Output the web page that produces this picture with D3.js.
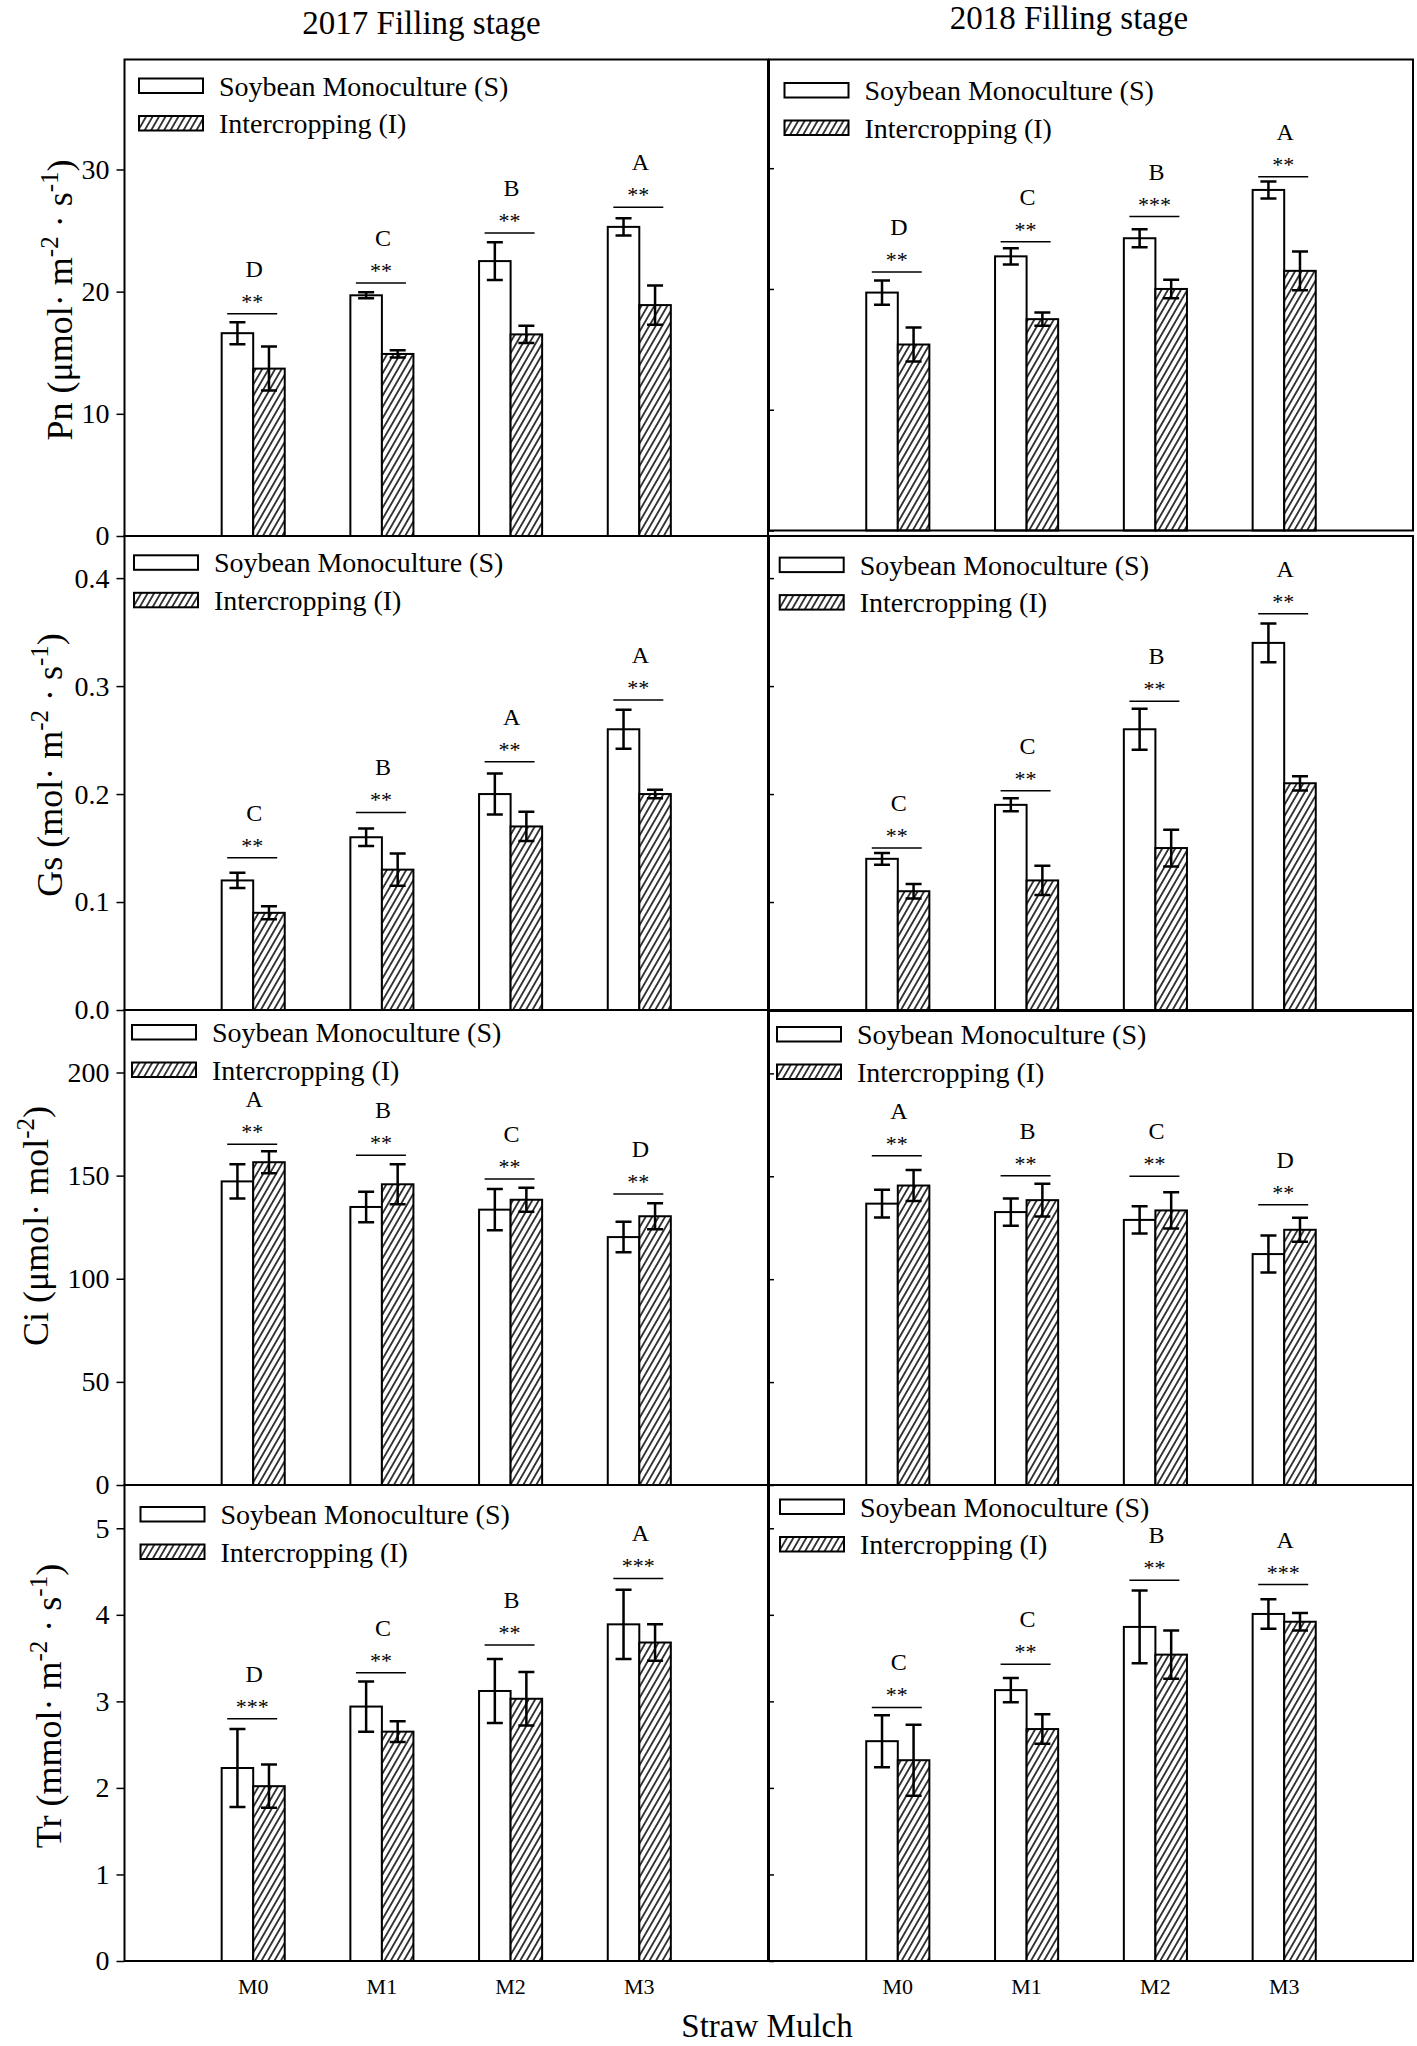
<!DOCTYPE html>
<html>
<head>
<meta charset="utf-8">
<title>Photosynthesis under straw mulch</title>
<script src="https://d3js.org/d3.v7.min.js"></script>
<style>
    html, body { margin: 0; padding: 0; background: #fff; }
    svg text { font-family: "Liberation Serif", "Times New Roman", serif; fill: #000; }
</style>
</head>
<body>
<svg id="chart" width="1417" height="2046"></svg>
<script>
    // Categories and series
    const groups = ["M0", "M1", "M2", "M3"];
    const seriesNames = ["Soybean Monoculture (S)", "Intercropping (I)"];
    const yearTitles = ["2017 Filling stage", "2018 Filling stage"];
    const xTitle = "Straw Mulch";

    // Pn 2017
    const pn17S = [16.6, 19.7, 22.5, 25.3], pn17SErr = [0.9, 0.25, 1.55, 0.7];
    const pn17I = [13.7, 14.9, 16.5, 18.9], pn17IErr = [1.8, 0.3, 0.7, 1.6];
    const pn17Line = [18.2, 20.7, 24.8, 26.9];
    const pn17Stars = ["**", "**", "**", "**"], pn17Letters = ["D", "C", "B", "A"];
    // Pn 2018
    const pn18S = [19.7, 22.7, 24.2, 28.2], pn18SErr = [1.0, 0.67, 0.75, 0.7];
    const pn18I = [15.4, 17.5, 20.0, 21.5], pn18IErr = [1.4, 0.55, 0.77, 1.6];
    const pn18Line = [21.4, 23.9, 26.0, 29.3];
    const pn18Stars = ["**", "**", "***", "**"], pn18Letters = ["D", "C", "B", "A"];
    // Gs 2017
    const gs17S = [0.12, 0.16, 0.20, 0.26], gs17SErr = [0.007, 0.008, 0.019, 0.018];
    const gs17I = [0.09, 0.13, 0.17, 0.20], gs17IErr = [0.006, 0.015, 0.0135, 0.004];
    const gs17Line = [0.141, 0.183, 0.230, 0.287];
    const gs17Stars = ["**", "**", "**", "**"], gs17Letters = ["C", "B", "A", "A"];
    // Gs 2018
    const gs18S = [0.14, 0.19, 0.26, 0.34], gs18SErr = [0.0054, 0.006, 0.019, 0.018];
    const gs18I = [0.11, 0.12, 0.15, 0.21], gs18IErr = [0.0067, 0.0136, 0.017, 0.0066];
    const gs18Line = [0.150, 0.203, 0.286, 0.367];
    const gs18Stars = ["**", "**", "**", "**"], gs18Letters = ["C", "C", "B", "A"];
    // Ci 2017
    const ci17S = [147.2, 134.8, 133.5, 120.2], ci17SErr = [8.3, 7.4, 10, 7.4];
    const ci17I = [156.5, 145.8, 138.3, 130.3], ci17IErr = [5.3, 9.7, 5.8, 6.3];
    const ci17Line = [165.2, 159.9, 148.4, 141.1];
    const ci17Stars = ["**", "**", "**", "**"], ci17Letters = ["A", "B", "C", "D"];
    // Ci 2018
    const ci18S = [136.7, 132.6, 128.8, 112.2], ci18SErr = [6.7, 6.6, 6.6, 9];
    const ci18I = [145.5, 138.4, 133.4, 124.0], ci18IErr = [7.5, 8, 8.8, 5.8];
    const ci18Line = [160, 150.2, 150, 136.2];
    const ci18Stars = ["**", "**", "**", "**"], ci18Letters = ["A", "B", "C", "D"];
    // Tr 2017
    const tr17S = [2.23, 2.94, 3.12, 3.89], tr17SErr = [0.45, 0.29, 0.37, 0.40];
    const tr17I = [2.02, 2.65, 3.03, 3.68], tr17IErr = [0.25, 0.12, 0.31, 0.21];
    const tr17Line = [2.80, 3.33, 3.65, 4.42];
    const tr17Stars = ["***", "**", "**", "***"], tr17Letters = ["D", "C", "B", "A"];
    // Tr 2018
    const tr18S = [2.54, 3.13, 3.86, 4.01], tr18SErr = [0.3, 0.14, 0.42, 0.17];
    const tr18I = [2.32, 2.68, 3.54, 3.92], tr18IErr = [0.41, 0.17, 0.28, 0.1];
    const tr18Line = [2.93, 3.43, 4.40, 4.35];
    const tr18Stars = ["**", "**", "**", "***"], tr18Letters = ["C", "C", "B", "A"];

    // Y axes (per row)
    const pnTicks = [0, 10, 20, 30], gsTicks = [0, 0.1, 0.2, 0.3, 0.4];
    const ciTicks = [0, 50, 100, 150, 200], trTicks = [0, 1, 2, 3, 4, 5];
    const yMax = [39, 0.439, 230.3, 5.5];
    const yTicks = [pnTicks, gsTicks, ciTicks, trTicks];
    const yFormats = [d3.format("d"), d3.format(".1f"), d3.format("d"), d3.format("d")];
    const yLabels = [
        ["Pn (μmol· m", "-2", " · s", "-1", ")"],
        ["Gs (mol· m", "-2", " · s", "-1", ")"],
        ["Ci (μmol· mol", "-2", ")"],
        ["Tr (mmol· m", "-2", " · s", "-1", ")"]
    ];

    // Layout
    const svg = d3.select("#chart");
    // [top, bottom] of each row, left and right column
    const rowBox = [
        [[59.5, 536], [59.5, 530.5]],
        [[536, 1010], [536, 1010]],
        [[1010, 1485], [1011, 1485]],
        [[1485, 1961], [1485, 1961]]
    ];
    const cols = [[124.5, 768], [769, 1413]];
    const labelPos = [[72, 300], [62, 765], [48, 1226], [61, 1706]];
    const legendOff = [[[14.5, 19], [15.5, 23.5]], [[9.5, 19.3], [10.7, 21.6]],
                       [[7.5, 15], [8, 16]], [[16, 22], [11, 14.5]]];

    const panels = [
        [pn17S, pn17SErr, pn17I, pn17IErr, pn17Line, pn17Stars, pn17Letters],
        [pn18S, pn18SErr, pn18I, pn18IErr, pn18Line, pn18Stars, pn18Letters],
        [gs17S, gs17SErr, gs17I, gs17IErr, gs17Line, gs17Stars, gs17Letters],
        [gs18S, gs18SErr, gs18I, gs18IErr, gs18Line, gs18Stars, gs18Letters],
        [ci17S, ci17SErr, ci17I, ci17IErr, ci17Line, ci17Stars, ci17Letters],
        [ci18S, ci18SErr, ci18I, ci18IErr, ci18Line, ci18Stars, ci18Letters],
        [tr17S, tr17SErr, tr17I, tr17IErr, tr17Line, tr17Stars, tr17Letters],
        [tr18S, tr18SErr, tr18I, tr18IErr, tr18Line, tr18Stars, tr18Letters]
    ];

    // hatch pattern
    const defs = svg.append("defs");
    const pat = defs.append("pattern")
        .attr("id", "hatch")
        .attr("patternUnits", "userSpaceOnUse")
        .attr("width", 5.6).attr("height", 10)
        .attr("patternTransform", "rotate(30)");
    pat.append("rect").attr("width", 5.6).attr("height", 10).attr("fill", "#fff");
    pat.append("line").attr("x1", 2.8).attr("x2", 2.8).attr("y1", -1).attr("y2", 11)
        .attr("stroke", "#000").attr("stroke-width", 1.5);

    panels.forEach((p, idx) => {
        const row = Math.floor(idx / 2), col = idx % 2;
        const [sVals, sErr, iVals, iErr, lineVals, stars, letters] = p;
        const [x0, x1] = cols[col];
        const [y0, y1] = rowBox[row][col];

        const x = d3.scalePoint().domain(groups).range([x0, x1]).padding(1);
        const y = d3.scaleLinear().domain([0, yMax[row]]).range([y1, y0]);
        const bw = x.step() * 0.245;
        const g = svg.append("g");

        const series = [
            { vals: sVals, err: sErr, fill: "#fff", off: -bw },
            { vals: iVals, err: iErr, fill: "url(#hatch)", off: 0 }
        ];

        series.forEach(s => {
            g.selectAll(null).data(groups).enter().append("rect")
                .attr("x", d => x(d) + s.off)
                .attr("y", (d, i) => y(s.vals[i]))
                .attr("width", bw)
                .attr("height", (d, i) => y(0) - y(s.vals[i]))
                .attr("fill", s.fill)
                .attr("stroke", "#000")
                .attr("stroke-width", 2);
        });

        // error bars
        series.forEach(s => {
            groups.forEach((d, i) => {
                const cx = x(d) + s.off + bw / 2;
                const lo = y(s.vals[i] - s.err[i]), hi = y(s.vals[i] + s.err[i]);
                g.append("path")
                    .attr("d", `M${cx},${lo}V${hi}M${cx - 8},${lo}H${cx + 8}M${cx - 8},${hi}H${cx + 8}`)
                    .attr("fill", "none").attr("stroke", "#000").attr("stroke-width", 2.5);
            });
        });

        // significance marks
        groups.forEach((d, i) => {
            const ly = y(lineVals[i]);
            g.append("line")
                .attr("x1", x(d) - 26).attr("x2", x(d) + 24)
                .attr("y1", ly).attr("y2", ly)
                .attr("stroke", "#000").attr("stroke-width", 1.5);
            g.append("text")
                .attr("x", x(d) - 1).attr("y", ly - 5)
                .attr("text-anchor", "middle").attr("font-size", 22)
                .text(stars[i]);
            g.append("text")
                .attr("x", x(d) + 1).attr("y", ly - 37)
                .attr("text-anchor", "middle").attr("font-size", 24)
                .text(letters[i]);
        });

        // y axis
        let axis;
        if (col === 0) {
            axis = d3.axisLeft(y).tickValues(yTicks[row]).tickSize(8).tickPadding(7)
                .tickFormat(yFormats[row]);
        } else {
            axis = d3.axisLeft(y).tickValues(yTicks[row]).tickSize(-5).tickFormat("");
        }
        const ax = g.append("g").attr("transform", `translate(${x0},0)`).call(axis);
        ax.select(".domain").remove();
        ax.selectAll("line").attr("stroke", "#000").attr("stroke-width", 1.5);
        ax.selectAll("text").attr("font-size", 28).attr("font-family", null).attr("fill", "#000");

        // frame
        g.append("rect")
            .attr("x", x0).attr("y", y0)
            .attr("width", x1 - x0).attr("height", y1 - y0)
            .attr("fill", "none").attr("stroke", "#000").attr("stroke-width", 2);

        // legend
        const [ldx, ldy] = legendOff[row][col];
        const lg = g.append("g").attr("transform", `translate(${x0 + ldx},${y0 + ldy})`);
        seriesNames.forEach((name, k) => {
            lg.append("rect")
                .attr("x", 0).attr("y", k * 37.5)
                .attr("width", 64).attr("height", 14.5)
                .attr("fill", k === 0 ? "#fff" : "url(#hatch)")
                .attr("stroke", "#000").attr("stroke-width", 2);
            lg.append("text")
                .attr("x", 80).attr("y", k * 37.5 + 17)
                .attr("font-size", 28)
                .text(name);
        });

        // x labels in the bottom row
        if (row === 3) {
            g.selectAll(null).data(groups).enter().append("text")
                .attr("x", d => x(d)).attr("y", 1994)
                .attr("text-anchor", "middle").attr("font-size", 22)
                .text(d => d);
        }
    });

    // y-axis titles
    yLabels.forEach((parts, row) => {
        const [lx, ly] = labelPos[row];
        const t = svg.append("text")
            .attr("transform", `translate(${lx},${ly}) rotate(-90)`)
            .attr("text-anchor", "middle")
            .attr("font-size", 36);
        parts.forEach((s, k) => {
            const sup = k % 2 === 1;
            t.append("tspan")
                .attr("font-size", sup ? 25 : 36)
                .attr("dy", sup ? -14 : (k > 0 ? 14 : 0))
                .text(s);
        });
    });

    // column titles
    svg.append("text").attr("x", 421.5).attr("y", 33.7)
        .attr("text-anchor", "middle").attr("font-size", 33).text(yearTitles[0]);
    svg.append("text").attr("x", 1069).attr("y", 29.3)
        .attr("text-anchor", "middle").attr("font-size", 33).text(yearTitles[1]);

    // x title
    svg.append("text").attr("x", 767).attr("y", 2037)
        .attr("text-anchor", "middle").attr("font-size", 33).text(xTitle);
</script>
</body>
</html>
